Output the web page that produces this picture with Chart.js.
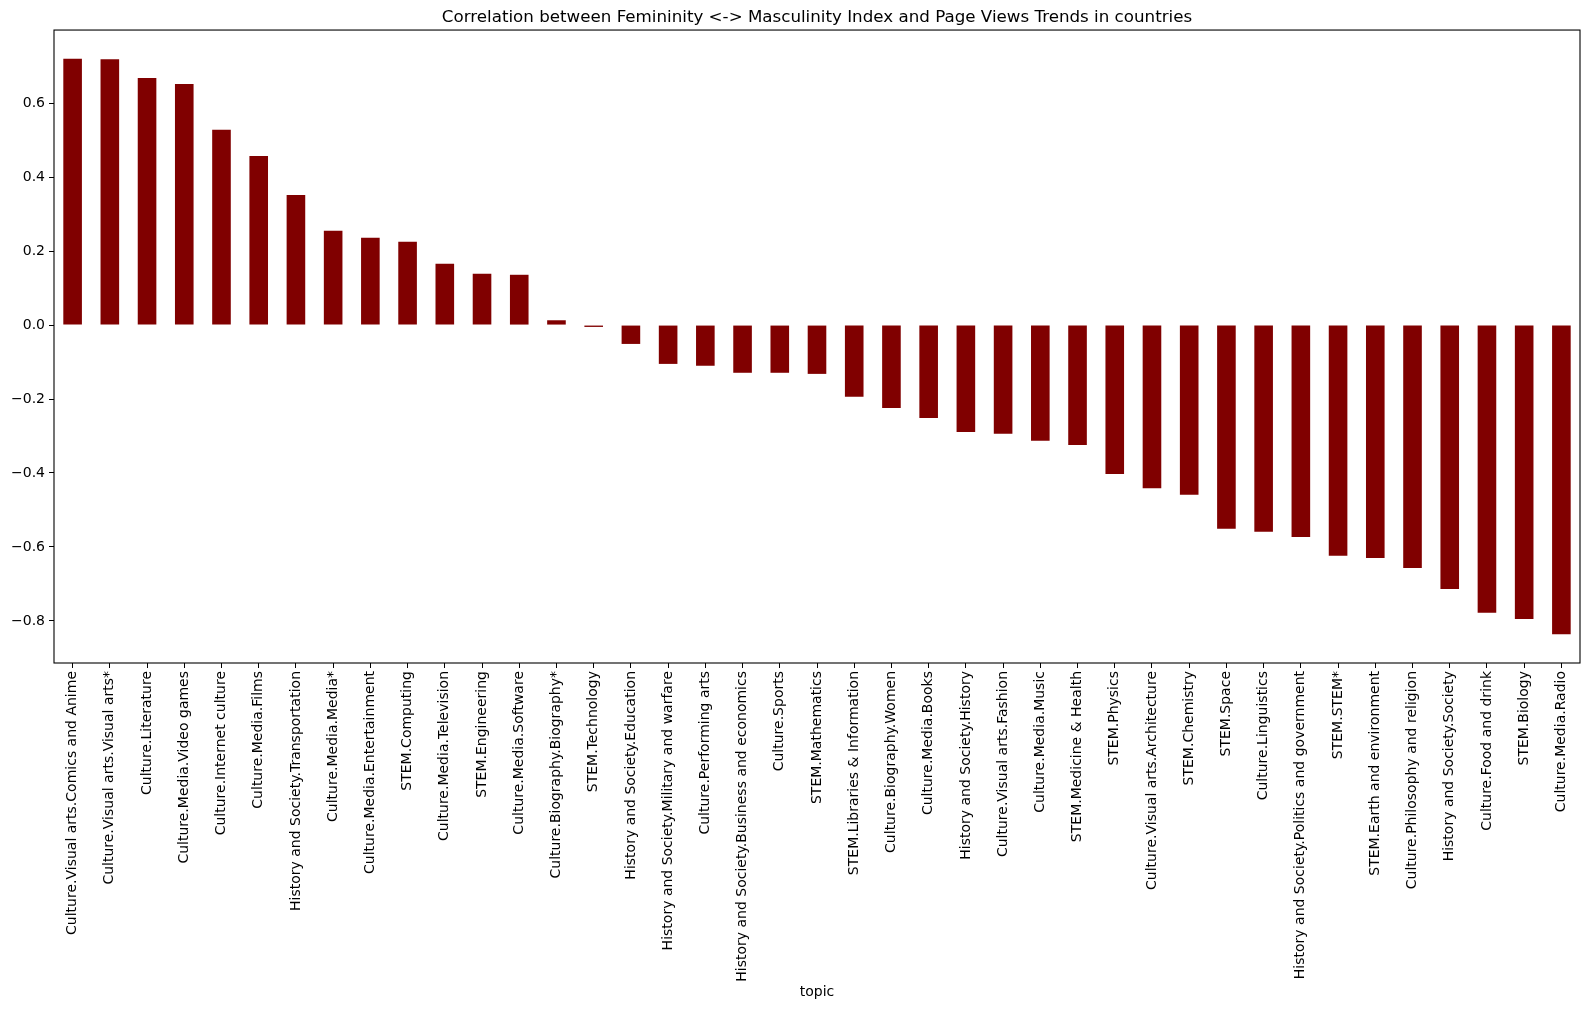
<!DOCTYPE html>
<html lang="en">
<head>
    <meta charset="UTF-8">
    <title>Correlation between Femininity <-> Masculinity Index and Page Views Trends</title>
    <script src="https://cdn.jsdelivr.net/npm/chart.js"></script>
    <style>
        body {
            margin: 0;
            background: #fff;
        }
        .chart-box {
            width: 1590px;
            height: 1010px;
        }
    </style>
</head>
<body>
    <div class="chart-box">
        <canvas id="corrChart" width="1590" height="1010"></canvas>
    </div>

    <script>
        // topics, sorted by correlation (as in the original plot)
        const topics = [
            'Culture.Visual arts.Comics and Anime',
            'Culture.Visual arts.Visual arts*',
            'Culture.Literature',
            'Culture.Media.Video games',
            'Culture.Internet culture',
            'Culture.Media.Films',
            'History and Society.Transportation',
            'Culture.Media.Media*',
            'Culture.Media.Entertainment',
            'STEM.Computing',
            'Culture.Media.Television',
            'STEM.Engineering',
            'Culture.Media.Software',
            'Culture.Biography.Biography*',
            'STEM.Technology',
            'History and Society.Education',
            'History and Society.Military and warfare',
            'Culture.Performing arts',
            'History and Society.Business and economics',
            'Culture.Sports',
            'STEM.Mathematics',
            'STEM.Libraries & Information',
            'Culture.Biography.Women',
            'Culture.Media.Books',
            'History and Society.History',
            'Culture.Visual arts.Fashion',
            'Culture.Media.Music',
            'STEM.Medicine & Health',
            'STEM.Physics',
            'Culture.Visual arts.Architecture',
            'STEM.Chemistry',
            'STEM.Space',
            'Culture.Linguistics',
            'History and Society.Politics and government',
            'STEM.STEM*',
            'STEM.Earth and environment',
            'Culture.Philosophy and religion',
            'History and Society.Society',
            'Culture.Food and drink',
            'STEM.Biology',
            'Culture.Media.Radio'
        ];

        // correlation values
        const correlations = [
            0.720, 0.719, 0.668, 0.652, 0.528, 0.457, 0.352, 0.255, 0.236, 0.225,
            0.166, 0.139, 0.136, 0.013, -0.005, -0.051, -0.105, -0.110, -0.129, -0.129,
            -0.132, -0.194, -0.224, -0.251, -0.289, -0.294, -0.313, -0.324, -0.403, -0.441,
            -0.459, -0.551, -0.559, -0.573, -0.624, -0.630, -0.657, -0.714, -0.778, -0.795,
            -0.836
        ];

        const yTicks = [-0.8, -0.6, -0.4, -0.2, 0.0, 0.2, 0.4, 0.6];

        // matplotlib-like axis limits (5% margin)
        const vMax = Math.max(...correlations);
        const vMin = Math.min(...correlations);
        const margin = (vMax - vMin) * 0.05;

        Chart.defaults.font.family = "'DejaVu Sans', sans-serif";
        Chart.defaults.color = '#000';

        // frame around the plot area (all four spines)
        const framePlugin = {
            id: 'frame',
            afterDatasetsDraw(chart) {
                const a = chart.chartArea;
                const ctx = chart.ctx;
                ctx.save();
                ctx.strokeStyle = '#000';
                ctx.lineWidth = 1.1;
                ctx.strokeRect(a.left, a.top, a.right - a.left, a.bottom - a.top);
                ctx.restore();
            }
        };

        const ctx = document.getElementById('corrChart').getContext('2d');
        const grafico = new Chart(ctx, {
            type: 'bar',
            data: {
                labels: topics,
                datasets: [{
                    data: correlations,
                    backgroundColor: '#800000',
                    borderWidth: 0,
                    categoryPercentage: 1.0,
                    barPercentage: 0.5
                }]
            },
            options: {
                responsive: false,
                animation: false,
                layout: {
                    padding: { left: 0, right: 10, top: 0, bottom: 5 }
                },
                plugins: {
                    legend: { display: false },
                    tooltip: { enabled: false },
                    title: {
                        display: true,
                        fullSize: false,
                        text: 'Correlation between Femininity <-> Masculinity Index and Page Views Trends in countries',
                        font: { size: 16.7, weight: 'normal' },
                        color: '#000',
                        padding: { top: 8, bottom: 2 }
                    }
                },
                scales: {
                    x: {
                        grid: {
                            offset: false,
                            drawOnChartArea: false,
                            drawTicks: true,
                            tickLength: 5,
                            color: '#000'
                        },
                        border: { display: false },
                        ticks: {
                            autoSkip: false,
                            maxRotation: 90,
                            minRotation: 90,
                            padding: 3,
                            font: { size: 14 }
                        },
                        title: {
                            display: true,
                            text: 'topic',
                            font: { size: 14 },
                            padding: { top: 4, bottom: 4 }
                        },
                        afterFit(scale) {
                            scale.height = 342;
                        }
                    },
                    y: {
                        min: vMin - margin,
                        max: vMax + margin,
                        afterBuildTicks(scale) {
                            scale.ticks = yTicks.map(v => ({ value: v }));
                        },
                        grid: {
                            drawOnChartArea: false,
                            drawTicks: true,
                            tickLength: 5,
                            color: '#000'
                        },
                        border: { display: false },
                        ticks: {
                            padding: 4,
                            font: { size: 14 },
                            callback: v => (Math.abs(v) < 1e-9 ? 0 : v).toFixed(1).replace('-', '\u2212')
                        },
                        afterFit(scale) {
                            scale.width = 54;
                        }
                    }
                }
            },
            plugins: [framePlugin]
        });
    </script>
</body>
</html>
